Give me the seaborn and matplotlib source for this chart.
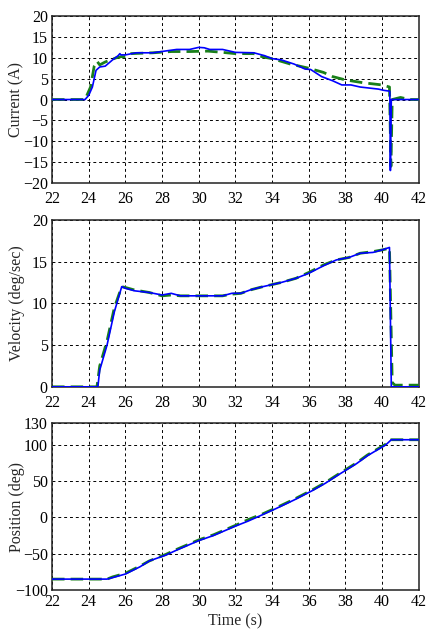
import numpy as np
import pandas as pd
import matplotlib
matplotlib.use("Agg")
import matplotlib.pyplot as plt
import seaborn as sns

# ---- data ----
cur_blue_t = [22, 23.8, 24.0, 24.2, 24.4, 24.6, 24.9, 25.3, 25.6, 25.7, 25.75, 26.0, 26.6, 27.5, 28.3, 28.8,
              29.5, 30.0, 30.3, 30.6, 31.3, 32.0, 33.0, 33.6, 34.0, 34.5, 35.2, 35.8, 36.1, 36.7, 37.3,
              37.8, 38.3, 38.8, 39.2, 39.8, 40.1, 40.42, 40.45, 40.5, 42]
cur_blue_v = [0, 0, 1, 3, 7, 7.8, 8, 9.5, 10.5, 11, 10.7, 10.7, 11.2, 11.2, 11.7, 12,
              12, 12.5, 12.4, 12, 12, 11.3, 11.2, 10.5, 9.8, 9.5, 8.5, 7.3, 7.2, 5.5, 4.5,
              3.5, 3.5, 3.0, 2.8, 2.5, 2.2, 2.0, -17, 0, 0]
cur_green_t = [22, 23.8, 24.1, 24.3, 24.45, 24.6, 24.9, 25.5, 25.8, 25.9, 26.3, 27.5, 28.5, 29.5, 30.5,
               31.3, 32.0, 33.0, 33.5, 34.0, 35.0, 36.0, 36.8, 37.3, 38.0, 39.0, 40.0, 40.4, 40.48, 40.55,
               41.0, 41.5, 42]
cur_green_v = [0, 0, 3, 8, 9.2, 8.3, 9, 10, 10.3, 10.2, 11, 11.2, 11.5, 11.5, 11.6,
               11.3, 11, 11, 10.2, 9.8, 8.5, 7.5, 6.5, 5.5, 4.7, 4.0, 3.5, 3.0, -16, 0,
               0.5, 0, 0]

vel_blue_t = [22, 24.5, 24.6, 25.0, 25.4, 25.8, 26.0, 26.5, 27.3, 28.0, 28.5, 29.0, 31.3, 31.8, 32.3,
              32.8, 33.5, 34.5, 35.3, 36.0, 36.8, 37.5, 38.2, 38.8, 39.5, 40.0, 40.4, 40.5, 42]
vel_blue_v = [0, 0, 2, 5, 9, 12, 11.8, 11.5, 11.3, 11, 11.2, 10.9, 10.9, 11.2, 11.2,
              11.6, 12, 12.5, 13, 13.6, 14.5, 15.2, 15.5, 16, 16.1, 16.4, 16.7, 0, 0]
vel_green_t = [22, 24.45, 24.6, 25.0, 25.4, 25.8, 26.0, 26.5, 27.3, 28.0, 28.5, 29.0, 31.3, 31.8, 32.3,
               32.8, 33.5, 34.5, 35.3, 36.0, 36.8, 37.5, 38.2, 38.8, 39.5, 40.0, 40.4, 40.55, 40.7, 42]
vel_green_v = [0, 0, 2.5, 5.5, 9.5, 12, 11.9, 11.6, 11.3, 10.9, 11.0, 10.9, 10.9, 11.1, 11.2,
               11.6, 12, 12.5, 13, 13.7, 14.6, 15.2, 15.5, 16, 16.2, 16.4, 16.6, 0.5, 0.2, 0.2]

pos_blue_t = [22, 25.0, 25.3, 26.0, 26.8, 27.3, 28.2, 28.8, 30.0, 30.8, 32.0, 32.7, 33.5, 34.2, 35.2,
              36.2, 36.9, 37.7, 38.6, 39.2, 40.2, 40.5, 42]
pos_blue_v = [-85, -85, -83, -78, -68, -60, -52, -45, -32, -25, -12, -5, 4, 12, 24,
              37, 47, 60, 74, 85, 100, 107, 107]
pos_green_t = [22, 25.0, 25.3, 26.0, 26.8, 27.3, 28.2, 28.8, 30.0, 30.8, 32.0, 32.7, 33.5, 34.2, 35.2,
               36.2, 36.9, 37.7, 38.6, 39.2, 40.2, 40.5, 42]
pos_green_v = [-85, -85, -82, -77, -67, -60, -51, -44, -31, -24, -11, -3, 5, 13, 25,
               38, 48, 61, 75, 86, 101, 107, 107]

xticks = [22, 24, 26, 28, 30, 32, 34, 36, 38, 40, 42]
cur_yticks = [-20, -15, -10, -5, 0, 5, 10, 15, 20]
vel_yticks = [0, 5, 10, 15, 20]
pos_yticks = [-100, -50, 0, 50, 100, 130]

sns.set_style("white")
plt.rcParams['font.family'] = ['Liberation Serif', 'DejaVu Serif']
FS = 11.5

fig = plt.figure(figsize=(4.3, 6.3), dpi=100)
left, width, height = 0.121, 0.853, 0.265
ax1 = fig.add_axes([left, 0.7095, width, height])
ax2 = fig.add_axes([left, 0.386, width, height])
ax3 = fig.add_axes([left, 0.0635, width, height])

blue = "#0000ff"
green = "#1a801a"

def draw(ax, bt, bv, gt, gv, yt, ylabel, xpad):
    dfb = pd.DataFrame({"t": bt, "v": bv})
    dfg = pd.DataFrame({"t": gt, "v": gv})
    sns.lineplot(data=dfg, x="t", y="v", ax=ax, color=green, lw=2.0, estimator=None, sort=False,
                 linestyle=(0, (4.5, 2.2)), zorder=3)
    sns.lineplot(data=dfb, x="t", y="v", ax=ax, color=blue, lw=1.2, estimator=None, sort=False, zorder=4)
    ax.set_xlim(22, 42)
    ax.set_ylim(yt[0], yt[-1])
    ax.set_xticks(xticks)
    ax.set_yticks(yt)
    ax.set_xlabel("")
    ax.set_ylabel(ylabel, fontsize=FS)
    ax.yaxis.set_label_coords(-0.074, 0.5)
    ax.grid(True, color="black", linestyle=(0, (3, 3)), linewidth=0.7)
    ax.set_axisbelow(True)
    for s in ax.spines.values():
        s.set_color("#222222")
        s.set_linewidth(1.1)
    ax.tick_params(axis="both", direction="in", length=0, labelsize=FS, colors="black")
    ax.tick_params(axis="x", pad=xpad)
    ax.tick_params(axis="y", pad=3)

draw(ax1, cur_blue_t, cur_blue_v, cur_green_t, cur_green_v, cur_yticks, "Current (A)", 6)
draw(ax2, vel_blue_t, vel_blue_v, vel_green_t, vel_green_v, vel_yticks, "Velocity (deg/sec)", 6)
draw(ax3, pos_blue_t, pos_blue_v, pos_green_t, pos_green_v, pos_yticks, "Position (deg)", 3)
ax3.set_xlabel("Time (s)", fontsize=FS, labelpad=2)

fig.savefig("out.png", dpi=100)
